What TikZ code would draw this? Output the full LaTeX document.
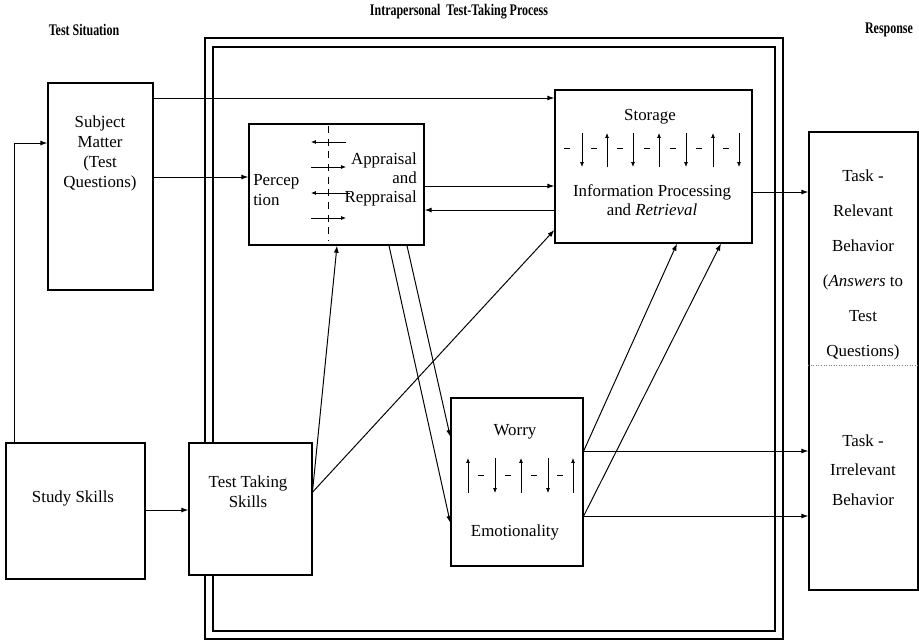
\documentclass[tikz,border=0pt]{standalone}
\usepackage{fontspec}
\setmainfont{Liberation Serif}
\newfontfamily\headfont{Liberation Serif}[FakeStretch=0.74]
\usetikzlibrary{arrows.meta}
\tikzset{
  box/.style={draw, line width=0.9pt, fill=white, inner sep=0pt},
  arr/.style={-{Latex[length=5pt,width=3.6pt]}, line width=0.7pt},
  tip/.style={-{Latex[length=3.5pt,width=2.8pt]}, line width=0.5pt},
  head/.style={font=\headfont\bfseries\fontsize{11.5}{13}\selectfont},
  txt/.style={font=\fontsize{12}{14}\selectfont, align=center, inner sep=0pt},
}
\begin{document}
\begin{tikzpicture}[x=0.025cm, y=-0.025cm]
  \useasboundingbox (0,0) rectangle (919,641);
  %headings
  \node[head] (hsit) at (84,30) {Test Situation};
  \node[head] (hproc) at (459,12) {Intrapersonal\ \ Test-Taking Process};
  \node[head] (hresp) at (889,30) {Response};
  %double frame
  \draw[line width=0.8pt] (205,38) rectangle (783,639);
  \draw[line width=0.8pt] (213,47) rectangle (775,631);
  %boxes
  \node[box, minimum width=2.625cm, minimum height=5.175cm] (subj) at (100.5,186.5) {};
  \node[box, minimum width=3.475cm, minimum height=3.4cm] (study) at (75.5,511) {};
  \node[box, minimum width=3.075cm, minimum height=3.3cm] (tts) at (250.5,509) {};
  \node[box, minimum width=4.375cm, minimum height=3.025cm] (perc) at (336.5,184.5) {};
  \node[box, minimum width=4.925cm, minimum height=3.825cm] (stor) at (653.5,166.5) {};
  \node[box, minimum width=3.3cm, minimum height=4.2cm] (worry) at (517,482) {};
  \node[box, minimum width=2.725cm, minimum height=11.45cm] (resp) at (863.5,361) {};
  %texts
  \node[txt, font=\fontsize{12}{14.2}\selectfont] (subjtxt) at (100,153) {Subject\\Matter\\(Test\\Questions)};
  \node[txt] (studytxt) at (73,498) {Study Skills};
  \node[txt] (ttstxt) at (248,492) {Test Taking\\Skills};
  \node[txt, align=left, anchor=west] (perctxt) at (253,190) {Percep\\tion};
  \node[txt, align=right, anchor=east, font=\fontsize{12}{13.5}\selectfont] (apptxt) at (417,179) {Appraisal\\and\\Reppraisal};
  \node[txt] (stortxt) at (650,117) {Storage};
  \node[txt] (infotxt) at (652,200) {Information Processing\\and \emph{Retrieval}};
  \node[txt] (worrytxt) at (515,432) {Worry};
  \node[txt] (emotxt) at (515,532) {Emotionality};
  \node[txt, font=\fontsize{12}{25}\selectfont] (reltxt) at (863,265) {Task -\\Relevant\\Behavior\\(\emph{Answers} to\\Test\\Questions)};
  \node[txt, font=\fontsize{12}{21}\selectfont] (irrtxt) at (863,470) {Task -\\Irrelevant\\Behavior};
  \draw[gray, dash pattern=on 0.6pt off 1.2pt] (resp.west |- 0,365) -- (resp.east |- 0,365);
  %perception / appraisal
  \draw[dash pattern=on 5pt off 4pt, line width=0.5pt] (328,126) -- (328,240);
  \draw[tip] (346,142) -- (311,142); \draw[tip] (311,167) -- (346,167);
  \draw[tip] (350,193) -- (311,193); \draw[tip] (311,218) -- (346,218);
  %storage row
  \draw[tip] (582,133) -- (582,167); \draw[tip] (607,167) -- (607,133);
  \draw[tip] (633,133) -- (633,167); \draw[tip] (659,167) -- (659,133);
  \draw[tip] (686,133) -- (686,167); \draw[tip] (713,167) -- (713,133);
  \draw[tip] (739,133) -- (739,167);
  \draw (564,148) -- (570,148); \draw (591,148) -- (597,148); \draw (617,148) -- (623,148);
  \draw (644,148) -- (650,148); \draw (670,148) -- (676,148); \draw (696,148) -- (702,148);
  \draw (723,148) -- (729,148);
  %worry row
  \draw[tip] (468,493) -- (468,458); \draw[tip] (495,458) -- (495,493);
  \draw[tip] (521,493) -- (521,458); \draw[tip] (548,458) -- (548,493);
  \draw[tip] (573,493) -- (573,458);
  \draw (478,475) -- (484,475); \draw (505,475) -- (511,475);
  \draw (531,475) -- (537,475); \draw (557,475) -- (563,475);
  %connectors
  \draw[arr] (study.north -| 14,0) |- (subj.west |- 0,143);
  \draw[arr] (study.east |- 0,510) -- (tts.west |- 0,510);
  \draw[arr] (subj.east |- 0,98) -- (stor.west |- 0,98);
  \draw[arr] (subj.east |- 0,177) -- (perc.west |- 0,177);
  \draw[arr] (perc.east |- 0,186) -- (stor.west |- 0,186);
  \draw[arr] (stor.west |- 0,210) -- (perc.east |- 0,210);
  \draw[arr] (tts.east |- 0,490) -- (perc.south -| 337,0);
  \draw[arr] (tts.east |- 0,492) -- (stor.west |- 0,230);
  \draw[arr] (perc.south -| 407,0) -- (worry.west |- 0,437);
  \draw[arr] (perc.south -| 389,0) -- (worry.west |- 0,523);
  \draw[arr] (worry.east |- 0,451) -- (stor.south -| 677,0);
  \draw[arr] (worry.east |- 0,516) -- (stor.south -| 721,0);
  \draw[arr] (worry.east |- 0,451) -- (resp.west |- 0,451);
  \draw[arr] (worry.east |- 0,516) -- (resp.west |- 0,516);
  \draw[arr] (stor.east |- 0,192) -- (resp.west |- 0,192);
\end{tikzpicture}
\end{document}
